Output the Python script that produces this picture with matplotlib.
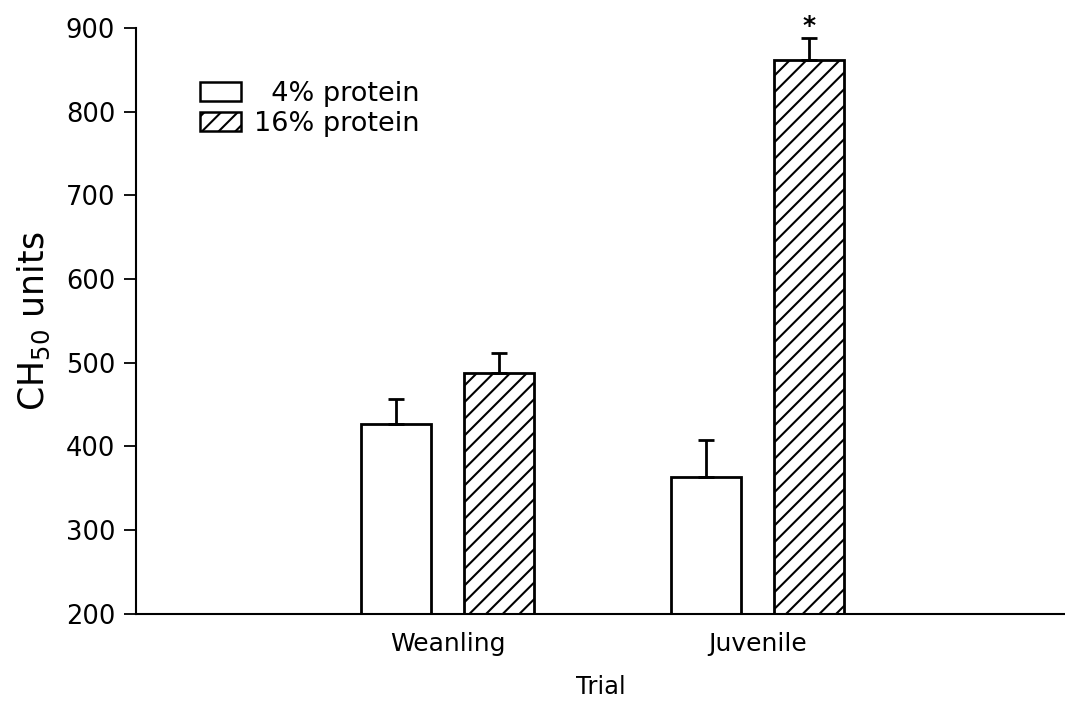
import matplotlib
matplotlib.use("Agg")
import matplotlib.pyplot as plt
import numpy as np

# Serum complement activity by age trial and dietary protein level
trials = ["Weanling", "Juvenile"]
series_labels = ["\u20074% protein", "16% protein"]
low_protein = [427, 364]
low_protein_err = [30, 44]
high_protein = [488, 861]
high_protein_err = [24, 27]
significant = [False, True]   # applies to 16% protein series

plt.rcParams["font.family"] = ["DejaVu Sans"]
plt.rcParams["hatch.linewidth"] = 1.5

fig = plt.figure(figsize=(10.65, 7.02), dpi=100)
ax = fig.add_axes([0.1277, 0.1254, 0.8723, 0.835])

x = np.arange(len(trials))
width = 0.226
offset = 0.166

err_kw = dict(ecolor="black", elinewidth=2.0, capsize=6, capthick=2.0)

ax.bar(x - offset, np.array(low_protein) - 200, width, bottom=200,
       color="white", edgecolor="black", linewidth=2.0,
       label=series_labels[0])
ax.errorbar(x - offset, low_protein, yerr=[np.zeros(len(x)), low_protein_err],
            fmt="none", **err_kw)

ax.bar(x + offset, np.array(high_protein) - 200, width, bottom=200,
       color="white", edgecolor="black", linewidth=2.0, hatch="//",
       label=series_labels[1])
ax.errorbar(x + offset, high_protein, yerr=[np.zeros(len(x)), high_protein_err],
            fmt="none", **err_kw)

for xi, v, e, sig in zip(x, high_protein, high_protein_err, significant):
    if sig:
        ax.annotate("*", xy=(xi + offset, v + e), xytext=(0, 0),
                    textcoords="offset points", ha="center", va="bottom",
                    fontsize=18, fontweight="bold")

ax.set_ylim(200, 900)
ax.set_xlim(-1.005, 1.992)
ax.set_yticks(np.arange(200, 901, 100))
ax.set_xticks(x)
ax.set_xticklabels(trials)
ax.tick_params(axis="y", direction="out", length=9, width=1.3, labelsize=18.5, pad=6)
ax.tick_params(axis="x", length=0, labelsize=18, pad=13)

for side in ("top", "right"):
    ax.spines[side].set_visible(False)
for side in ("left", "bottom"):
    ax.spines[side].set_linewidth(1.5)

ax.set_ylabel("CH$_{50}$ units", fontsize=25, labelpad=10)
ax.set_xlabel("Trial", fontsize=17.5, labelpad=14)

leg = ax.legend(loc="upper left", bbox_to_anchor=(0.0575, 0.928), frameon=False,
                fontsize=19.5, handlelength=1.5, handleheight=0.7,
                handletextpad=0.5, labelspacing=0.16, borderaxespad=0)
for h in leg.legend_handles:
    h.set_linewidth(1.8)

fig.savefig("out.png", dpi=100)
